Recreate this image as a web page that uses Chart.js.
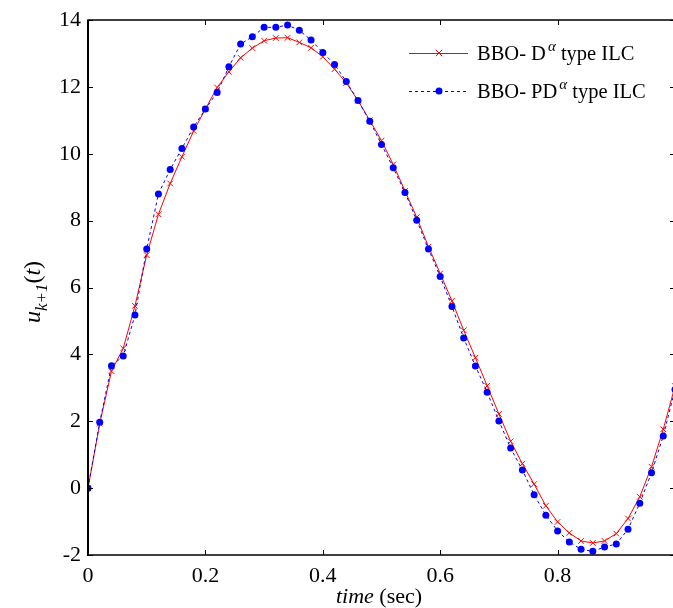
<!DOCTYPE html>
<html><head><meta charset="utf-8">
<script src="https://cdn.jsdelivr.net/npm/chart.js@4.4.0/dist/chart.umd.min.js"></script>
<style>
html,body{margin:0;padding:0;overflow:hidden;background:#fff;width:673px;height:608px;}
#wrap{position:absolute;left:0;top:0;width:680px;height:608px;}
</style></head><body>
<div id="wrap"><canvas id="c" width="680" height="608"></canvas></div>
<script>
const timeSec = [0,0.02,0.04,0.06,0.08,0.10,0.12,0.14,0.16,0.18,0.20,0.22,0.24,0.26,0.28,0.30,0.32,0.34,0.36,0.38,0.40,0.42,0.44,0.46,0.48,0.50,0.52,0.54,0.56,0.58,0.60,0.62,0.64,0.66,0.68,0.70,0.72,0.74,0.76,0.78,0.80,0.82,0.84,0.86,0.88,0.90,0.92,0.94,0.96,0.98,1.00];
const seriesD = [0,1.93,3.50,4.18,5.45,6.97,8.19,9.11,9.91,10.68,11.34,11.98,12.45,12.87,13.16,13.38,13.46,13.47,13.33,13.17,12.90,12.53,12.12,11.59,11.00,10.39,9.68,8.89,8.10,7.22,6.42,5.60,4.72,3.90,3.06,2.22,1.40,0.73,0.12,-0.53,-1.01,-1.34,-1.58,-1.64,-1.58,-1.36,-0.91,-0.26,0.64,1.76,3.05];
const seriesPD = [0,1.97,3.66,3.95,5.18,7.15,8.80,9.53,10.16,10.80,11.34,11.83,12.60,13.28,13.50,13.78,13.78,13.85,13.69,13.40,13.03,12.67,12.16,11.59,10.97,10.28,9.58,8.84,8.01,7.15,6.33,5.43,4.49,3.65,2.87,2.01,1.20,0.54,-0.20,-0.81,-1.28,-1.61,-1.83,-1.89,-1.76,-1.67,-1.23,-0.45,0.46,1.56,2.95];
const xTickLabels = ['0','0.2','0.4','0.6','0.8','1'];
const yTickLabels = ['-2','0','2','4','6','8','10','12','14'];
const legendParts = [
  {pre:'BBO- D', sup:'\u03B1', post:' type ILC'},
  {pre:'BBO- PD', sup:'\u03B1', post:' type ILC'}
];
const xTitleParts = ['time', ' (sec)'];
const yTitleParts = ['u', 'k+1', '(', 't', ')'];

const SERIF = '"Liberation Serif", "Times New Roman", serif';
const RED = '#ff0000', BLUE = '#0000ff';

const framePlugin = {
  id: 'frame',
  afterDraw(chart) {
    const ctx = chart.ctx, a = chart.chartArea;
    const xs = chart.scales.x, ys = chart.scales.y;
    ctx.save();
    ctx.strokeStyle = '#000';
    ctx.lineWidth = 1.5;
    ctx.strokeRect(a.left, a.top, a.right - a.left, a.bottom - a.top);
    ctx.lineWidth = 2;
    ctx.beginPath(); ctx.moveTo(a.left, a.top); ctx.lineTo(a.left, a.bottom + 1); ctx.stroke();
    ctx.lineWidth = 1;
    const tl = 5;
    ctx.beginPath();
    xs.ticks.forEach(t => {
      const px = Math.round(xs.getPixelForValue(t.value)) + 0.5;
      ctx.moveTo(px, a.bottom); ctx.lineTo(px, a.bottom - tl);
      ctx.moveTo(px, a.top); ctx.lineTo(px, a.top + tl);
    });
    ys.ticks.forEach(t => {
      const py = Math.round(ys.getPixelForValue(t.value)) + 0.5;
      ctx.moveTo(a.left, py); ctx.lineTo(a.left + tl, py);
      ctx.moveTo(a.right, py); ctx.lineTo(a.right - tl, py);
    });
    ctx.stroke();

    // legend
    const lx0 = 409, lx1 = 468, mx = 439, tx = 477;
    const rows = [53, 91];
    ctx.textBaseline = 'alphabetic';
    rows.forEach((ry, i) => {
      ctx.lineWidth = 1;
      if (i === 0) {
        ctx.strokeStyle = RED; ctx.setLineDash([]);
        ctx.beginPath(); ctx.moveTo(lx0, ry + 0.5); ctx.lineTo(lx1, ry + 0.5); ctx.stroke();
        const r = 3.2;
        ctx.beginPath();
        ctx.moveTo(mx - r, ry - r); ctx.lineTo(mx + r, ry + r);
        ctx.moveTo(mx - r, ry + r); ctx.lineTo(mx + r, ry - r);
        ctx.stroke();
      } else {
        ctx.strokeStyle = BLUE; ctx.setLineDash([3, 3]);
        ctx.beginPath(); ctx.moveTo(lx0, ry + 0.5); ctx.lineTo(lx1, ry + 0.5); ctx.stroke();
        ctx.setLineDash([]);
        ctx.fillStyle = BLUE;
        ctx.beginPath(); ctx.arc(mx, ry, 3.5, 0, Math.PI * 2); ctx.fill();
      }
      const p = legendParts[i];
      const base = ry + 7;
      ctx.fillStyle = '#000';
      ctx.font = '20.5px ' + SERIF;
      ctx.textAlign = 'left';
      ctx.fillText(p.pre, tx, base);
      let x = tx + ctx.measureText(p.pre).width + 2;
      ctx.font = 'italic 15px ' + SERIF;
      ctx.fillText(p.sup, x, base - 9);
      x += ctx.measureText(p.sup).width;
      ctx.font = '20.5px ' + SERIF;
      ctx.fillText(p.post, x, base);
    });

    // x title
    ctx.fillStyle = '#000';
    ctx.font = 'italic 22px ' + SERIF;
    const w1 = ctx.measureText(xTitleParts[0]).width;
    ctx.font = '22px ' + SERIF;
    const w2 = ctx.measureText(xTitleParts[1]).width;
    let sx = 379 - (w1 + w2) / 2;
    ctx.font = 'italic 22px ' + SERIF;
    ctx.fillText(xTitleParts[0], sx, 603);
    ctx.font = '22px ' + SERIF;
    ctx.fillText(xTitleParts[1], sx + w1, 603);

    // y title (rotated)
    ctx.save();
    ctx.translate(40, 292);
    ctx.rotate(-Math.PI / 2);
    const segs = [
      {t: yTitleParts[0], f: 'italic 24px ' + SERIF, dy: 0},
      {t: yTitleParts[1], f: 'italic 17px ' + SERIF, dy: 7},
      {t: yTitleParts[2], f: '24px ' + SERIF, dy: 0},
      {t: yTitleParts[3], f: 'italic 24px ' + SERIF, dy: 0},
      {t: yTitleParts[4], f: '24px ' + SERIF, dy: 0}
    ];
    let tw = 0;
    segs.forEach(s => { ctx.font = s.f; s.w = ctx.measureText(s.t).width; tw += s.w; });
    let cx = -tw / 2;
    segs.forEach(s => { ctx.font = s.f; ctx.fillText(s.t, cx, s.dy); cx += s.w; });
    ctx.restore();
    ctx.restore();
  }
};

new Chart(document.getElementById('c'), {
  type: 'line',
  data: {
    datasets: [
      {
        label: 'BBO- D\u03B1 type ILC',
        data: timeSec.map((t, i) => ({x: t, y: seriesD[i]})),
        borderColor: RED, backgroundColor: RED, borderWidth: 1,
        pointStyle: 'crossRot', pointRadius: 4, pointBorderWidth: 1,
        pointBorderColor: RED, tension: 0, fill: false, order: 2
      },
      {
        label: 'BBO- PD\u03B1 type ILC',
        data: timeSec.map((t, i) => ({x: t, y: seriesPD[i]})),
        borderColor: BLUE, backgroundColor: BLUE, borderWidth: 1, borderDash: [3, 3],
        pointStyle: 'circle', pointRadius: 3.5, pointBorderWidth: 0,
        pointBackgroundColor: BLUE, tension: 0, fill: false, order: 1
      }
    ]
  },
  options: {
    responsive: false, animation: false,
    layout: {padding: {left: 0, top: 20, right: 2, bottom: 0}},
    plugins: {legend: {display: false}, tooltip: {enabled: false}},
    scales: {
      x: {
        type: 'linear', min: 0, max: 1,
        grid: {display: false, drawTicks: false}, border: {display: false},
        ticks: {
          stepSize: 0.2, padding: 8, color: '#000', maxRotation: 0,
          font: {family: SERIF, size: 22},
          callback: (v, i) => (v < 1 ? xTickLabels[i] : '')
        },
        afterFit: s => { s.height = 53; s.paddingLeft = 0; s.paddingRight = 0; }
      },
      y: {
        min: -2, max: 14,
        grid: {display: false, drawTicks: false}, border: {display: false},
        ticks: {
          stepSize: 2, padding: 7, color: '#000',
          font: {family: SERIF, size: 22},
          callback: (v, i) => yTickLabels[i]
        },
        afterFit: s => { s.width = 88; s.paddingTop = 0; s.paddingBottom = 0; }
      }
    }
  },
  plugins: [framePlugin]
});
</script>
</body></html>
